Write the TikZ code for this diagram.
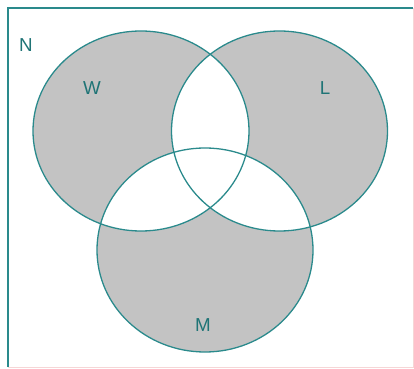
\documentclass[tikz,border=0pt]{standalone}
\usepackage{fontspec}
\setmainfont{Liberation Sans}
\definecolor{setedge}{HTML}{2A8A8C}
\definecolor{tealtext}{HTML}{1F7476}
\definecolor{vennfill}{HTML}{C3C3C3}
\definecolor{faint}{HTML}{F6D6D6}
\begin{document}
\begin{tikzpicture}[x=.03cm,y=-.03cm,line width=.7pt,every node/.style={font=\fontsize{16}{16}\selectfont,text=tealtext},setline/.style={setedge,line width=1.1pt}]
\path[use as bounding box] (0,0) rectangle (414,369);

% universe
\fill[white] (0,0) rectangle (414,369);
\draw[faint] (413,8)--(413,367)--(8,367);
\draw[setedge,line width=1.1pt] (8,367)--(8,8)--(413,8);

% sets, then clear the overlaps
\def\setW{(141,131) ellipse [x radius=108,y radius=100]}
\def\setL{(279.5,131) ellipse [x radius=108,y radius=100]}
\def\setM{(205,250) ellipse [x radius=108,y radius=102]}
\fill[vennfill] \setW \setL \setM;
\begin{scope}\clip \setW; \fill[white] \setL; \fill[white] \setM; \end{scope}
\begin{scope}\clip \setL; \fill[white] \setM; \end{scope}
\draw[setline] \setW;
\draw[setline] \setL;
\draw[setline] \setM;

\node (n) at (26,45) {N};
\node (w) at (92,88) {W};
\node (l) at (325,88) {L};
\node (m) at (203,325) {M};

\end{tikzpicture}
\end{document}
